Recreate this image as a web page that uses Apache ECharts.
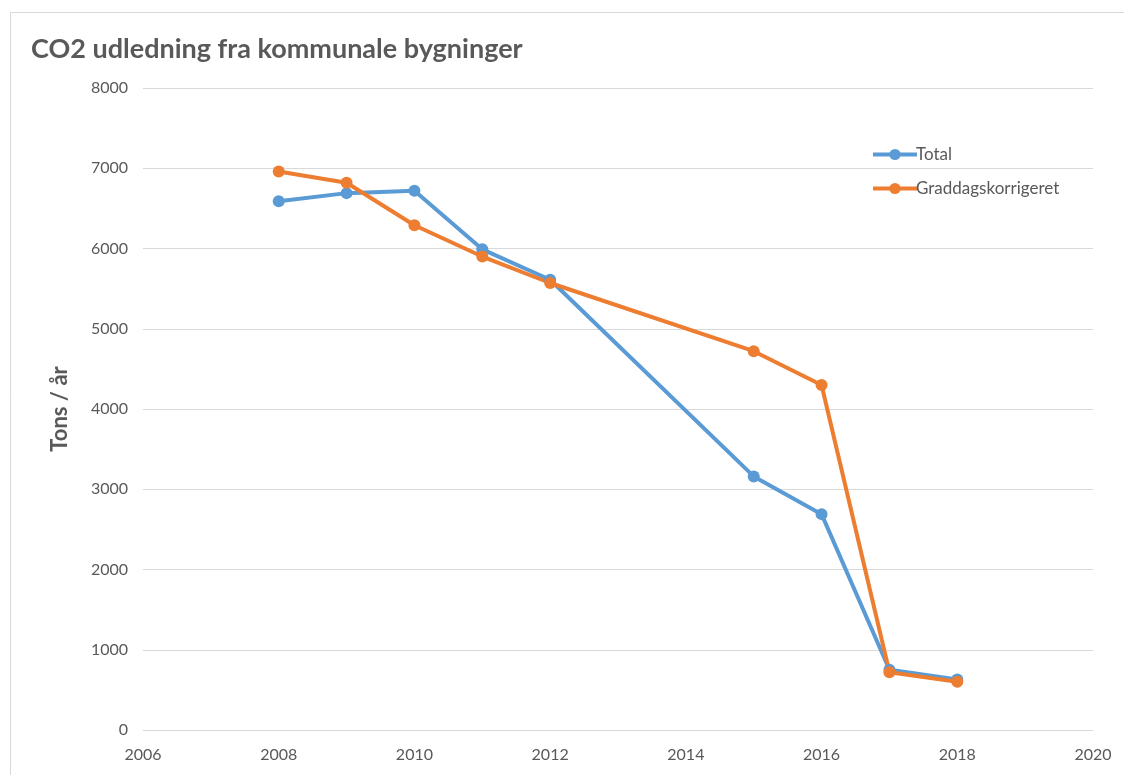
<!DOCTYPE html>
<html>
<head>
<meta charset="utf-8">
<title>CO2 udledning</title>
<script src="https://cdn.jsdelivr.net/npm/echarts@6/dist/echarts.min.js"></script>
<style>
  html, body { margin: 0; padding: 0; background: #fff; }
  #chart { width: 1124px; height: 775px; }
</style>
</head>
<body>
<div id="chart"></div>
<script>
// data
var years = [2008, 2009, 2010, 2011, 2012, 2015, 2016, 2017, 2018];
var total = [6590, 6690, 6720, 5990, 5610, 3160, 2690, 750, 630];
var graddag = [6960, 6820, 6290, 5900, 5570, 4720, 4300, 720, 600];
var seriesNames = ['Total', 'Graddagskorrigeret'];

function pairs(xs, ys) {
  return xs.map(function (x, i) { return [x, ys[i]]; });
}

var chart = echarts.init(document.getElementById('chart'));
var textColor = '#595959';
var font = 'Lato, "Open Sans", sans-serif';

chart.setOption({
  animation: false,
  color: ['#5B9BD5', '#ED7D31'],
  title: {
    text: 'CO2 udledning fra kommunale bygninger',
    left: 26,
    top: 31,
    textStyle: { fontFamily: font, fontSize: 27, fontWeight: 'bold', color: textColor }
  },
  graphic: [{
    type: 'rect',
    shape: { x: 10.5, y: 12.5, width: 1300, height: 900 },
    style: { fill: 'none', stroke: '#d9d9d9', lineWidth: 1 },
    silent: true
  }],
  legend: {
    orient: 'vertical',
    left: 866,
    top: 141,
    itemGap: 17,
    itemWidth: 44,
    itemHeight: 14,
    lineStyle: { width: 4 },
    data: seriesNames,
    textStyle: { fontFamily: font, fontSize: 17, color: textColor, padding: [0, 0, 0, -6] }
  },
  grid: { left: 143, right: 31, top: 88, bottom: 45 },
  xAxis: {
    type: 'value',
    min: 2006,
    max: 2020,
    interval: 2,
    axisLine: { show: false },
    axisTick: { show: false },
    splitLine: { show: false },
    axisLabel: { fontFamily: font, fontSize: 16, color: textColor, margin: 17, formatter: function (v) { return String(v); } }
  },
  yAxis: {
    type: 'value',
    min: 0,
    max: 8000,
    interval: 1000,
    name: 'Tons / år',
    nameLocation: 'middle',
    nameGap: 72,
    nameTextStyle: { fontFamily: font, fontSize: 22, fontWeight: 'bold', color: textColor },
    axisLine: { show: false },
    axisTick: { show: false },
    splitLine: { lineStyle: { color: '#d9d9d9', width: 1 } },
    axisLabel: { fontFamily: font, fontSize: 16, color: textColor, margin: 15, formatter: function (v) { return String(v); } }
  },
  series: [
    {
      name: seriesNames[0],
      type: 'line',
      data: pairs(years, total),
      symbol: 'circle',
      symbolSize: 12,
      lineStyle: { width: 4 }
    },
    {
      name: seriesNames[1],
      type: 'line',
      data: pairs(years, graddag),
      symbol: 'circle',
      symbolSize: 12,
      lineStyle: { width: 4 }
    }
  ]
});
</script>
</body>
</html>
